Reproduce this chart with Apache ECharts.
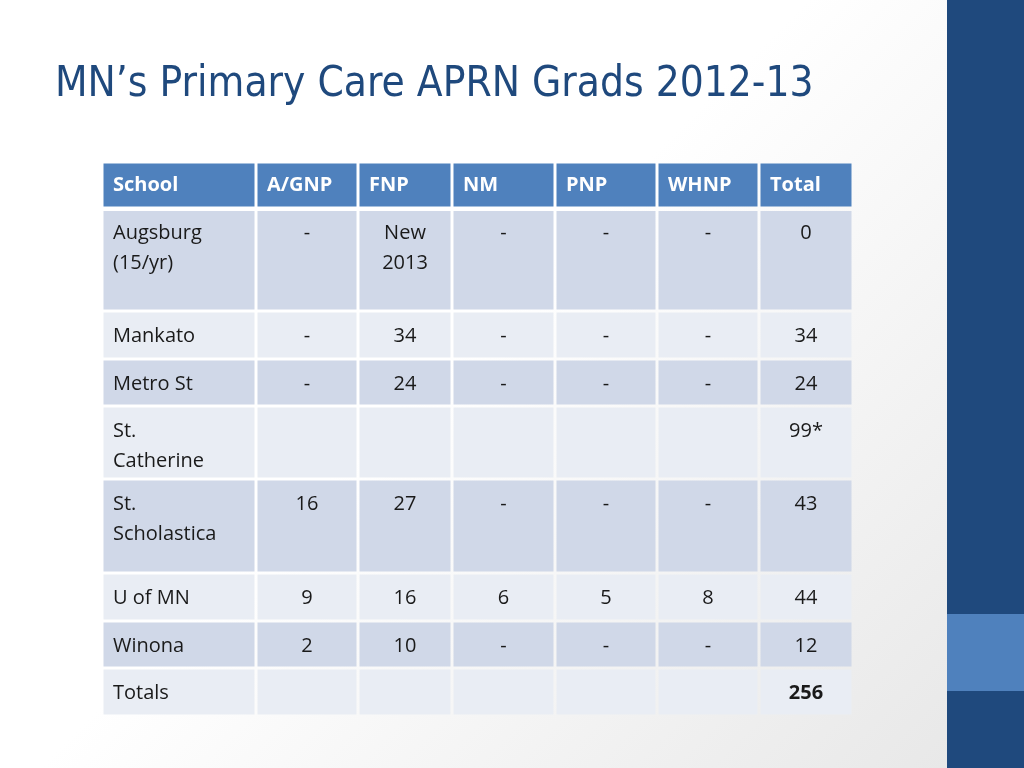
<!DOCTYPE html>
<html>
<head>
<meta charset="utf-8">
<title>MN's Primary Care APRN Grads 2012-13</title>
<style>
  html, body { margin: 0; padding: 0; }
  body { background: linear-gradient(135deg, #ffffff 0%, #ffffff 45%, #e6e6e6 100%); }
</style>
</head>
<body>
<div id="main" style="width:1024px;height:768px;"></div>
<script src="https://cdn.jsdelivr.net/npm/echarts@6/dist/echarts.min.js"></script>
<script>
// table content
var headers = ['School', 'A/GNP', 'FNP', 'NM', 'PNP', 'WHNP', 'Total'];
var schools = ['Augsburg\n(15/yr)', 'Mankato', 'Metro St', 'St.\nCatherine', 'St.\nScholastica', 'U of MN', 'Winona', 'Totals'];
var agnp  = ['-', '-', '-', '', '16', '9', '2', ''];
var fnp   = ['New\n2013', '34', '24', '', '27', '16', '10', ''];
var nm    = ['-', '-', '-', '', '-', '6', '-', ''];
var pnp   = ['-', '-', '-', '', '-', '5', '-', ''];
var whnp  = ['-', '-', '-', '', '-', '8', '-', ''];
var total = ['0', '34', '24', '99*', '43', '44', '12', '256'];

// layout of the table (pixel-like units on hidden value axes)
var colEdges = [0, 154, 256, 350, 453, 555, 657, 751];
var rowEdges = [0, 46, 149, 197, 244, 317, 411, 459, 506, 554];

var columns = [schools, agnp, fnp, nm, pnp, whnp, total];
var cells = [];
headers.forEach(function (h, c) { cells.push([c, 0, h]); });
columns.forEach(function (col, c) {
  col.forEach(function (v, r) { cells.push([c, r + 1, v]); });
});

var myChart = echarts.init(document.getElementById('main'));

var option = {
  grid: { left: 102, top: 162, width: 751, height: 554 },
  xAxis: { type: 'value', min: 0, max: 751, show: false },
  yAxis: { type: 'value', min: 0, max: 554, inverse: true, show: false },
  graphic: [
    { type: 'rect', shape: { x: 947, y: 0, width: 77, height: 768 }, style: { fill: '#1f497d' } },
    { type: 'rect', shape: { x: 947, y: 614, width: 77, height: 77 }, style: { fill: '#4f81bd' } },
    { type: 'text', left: 55, top: 64,
      style: { text: "MN\u2019s Primary Care APRN Grads 2012-13", fill: '#1f497d',
               font: '42px "DejaVu Sans Condensed"' } }
  ],
  series: [{
    type: 'custom',
    data: cells,
    encode: { x: 0, y: 1 },
    renderItem: function (params, api) {
      var c = api.value(0), r = api.value(1);
      var text = cells[params.dataIndex][2];
      var p0 = api.coord([colEdges[c], rowEdges[r]]);
      var p1 = api.coord([colEdges[c + 1], rowEdges[r + 1]]);
      var gapTop = r === 1 ? 3 : 1.5;
      var fill = r === 0 ? '#4f81bd' : (r % 2 === 1 ? '#d0d8e8' : '#e9edf4');
      var isHeader = r === 0;
      var bold = isHeader || (c === 6 && r === 8);
      var centered = !isHeader && c > 0;
      return {
        type: 'group',
        children: [{
          type: 'rect',
          shape: { x: p0[0] + 1.5, y: p0[1] + gapTop, width: p1[0] - p0[0] - 3, height: p1[1] - p0[1] - gapTop - 1.5 },
          style: { fill: fill }
        }, {
          type: 'text',
          style: {
            x: centered ? (p0[0] + p1[0]) / 2 : p0[0] + 11,
            y: isHeader ? (p0[1] + p1[1]) / 2 : p0[1] + 10,
            text: text,
            align: centered ? 'center' : 'left',
            verticalAlign: isHeader ? 'middle' : 'top',
            fill: isHeader ? '#ffffff' : '#1a1a1a',
            font: (bold ? 'bold ' : '') + '20px "Open Sans"',
            lineHeight: 30
          }
        }]
      };
    }
  }]
};

myChart.setOption(option);
</script>
</body>
</html>
